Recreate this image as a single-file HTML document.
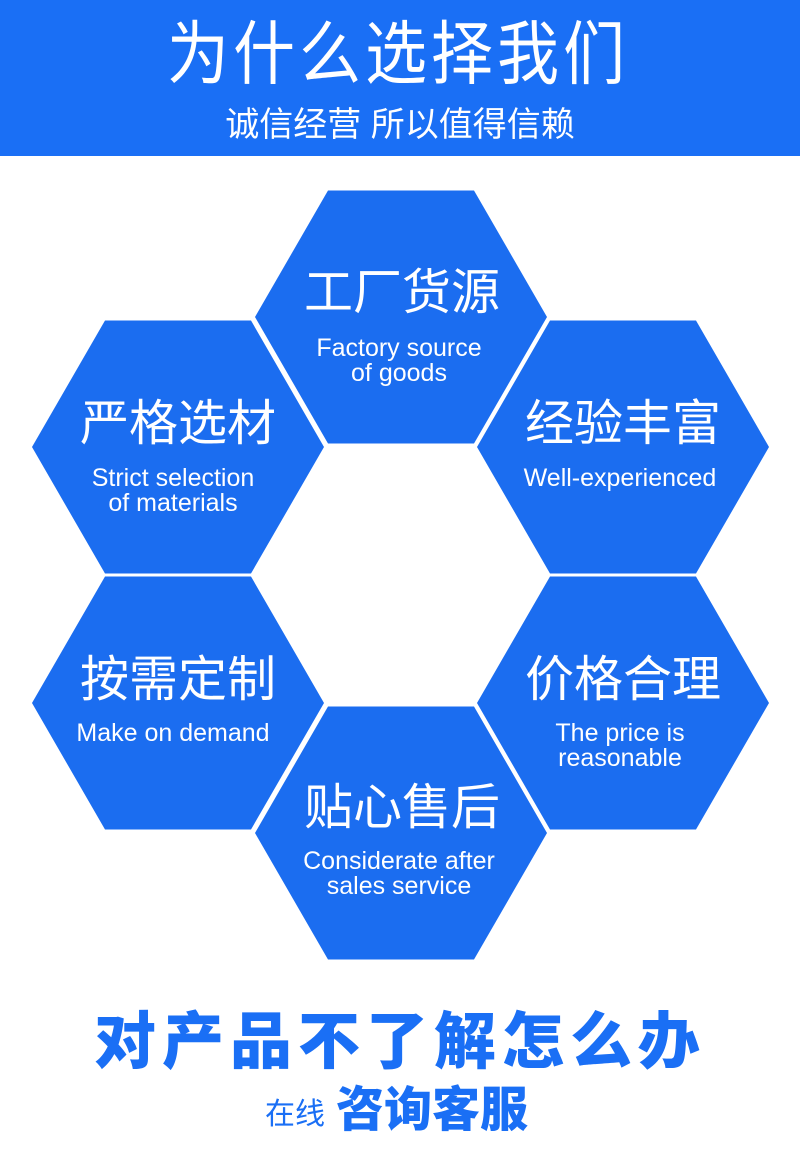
<!DOCTYPE html>
<html><head><meta charset="utf-8"><style>
html,body{margin:0;padding:0;background:#fff;}
svg{display:block;}
</style></head><body>
<svg width="800" height="1172" viewBox="0 0 800 1172" xmlns="http://www.w3.org/2000/svg">
<rect x="0" y="0" width="800" height="156" fill="#1a6ff5"/>
<g font-family="'Liberation Sans','Noto Sans CJK SC',sans-serif" fill="#fff" text-anchor="middle">
<text x="0" y="0" font-size="62" transform="translate(398,78) scale(1,1.12)" letter-spacing="4">为什么选择我们</text>
<text x="400" y="136" font-size="34">诚信经营 所以值得信赖</text>
</g>
<g fill="#1b6df0">
<polygon points="255,317 328,190.5 474,190.5 547,317 474,443.5 328,443.5"/>
<polygon points="32,447 105,320.5 251,320.5 324,447 251,573.5 105,573.5"/>
<polygon points="477,447 550,320.5 696,320.5 769,447 696,573.5 550,573.5"/>
<polygon points="32,703 105,576.5 251,576.5 324,703 251,829.5 105,829.5"/>
<polygon points="477,703 550,576.5 696,576.5 769,703 696,829.5 550,829.5"/>
<polygon points="255,833 328,706.5 474,706.5 547,833 474,959.5 328,959.5"/>
</g>
<g font-family="'Liberation Sans','Noto Sans CJK SC',sans-serif" fill="#fff" text-anchor="middle" dominant-baseline="central">
<text x="402" y="293" font-size="49">工厂货源</text>
<text x="399" y="348" font-size="25">Factory source</text>
<text x="399" y="373" font-size="25">of goods</text>
<text x="178" y="424" font-size="49">严格选材</text>
<text x="173" y="478" font-size="25">Strict selection</text>
<text x="173" y="503" font-size="25">of materials</text>
<text x="623" y="424" font-size="49">经验丰富</text>
<text x="620" y="478" font-size="25">Well-experienced</text>
<text x="178" y="680" font-size="49">按需定制</text>
<text x="173" y="733" font-size="25">Make on demand</text>
<text x="623" y="680" font-size="49">价格合理</text>
<text x="620" y="733" font-size="25">The price is</text>
<text x="620" y="758" font-size="25">reasonable</text>
<text x="402" y="808" font-size="49">贴心售后</text>
<text x="399" y="861" font-size="25">Considerate after</text>
<text x="399" y="886" font-size="25">sales service</text>
</g>
<g font-family="'Liberation Sans','Noto Sans CJK SC',sans-serif" fill="#1a6ff5">
<text x="400" y="1063" font-size="62" font-weight="900" text-anchor="middle" letter-spacing="6">对产品不了解怎么办</text>
<text x="265" y="1124" font-size="30">在线</text>
<text x="336" y="1126" font-size="48" font-weight="900">咨询客服</text>
</g>
</svg>
</body></html>
